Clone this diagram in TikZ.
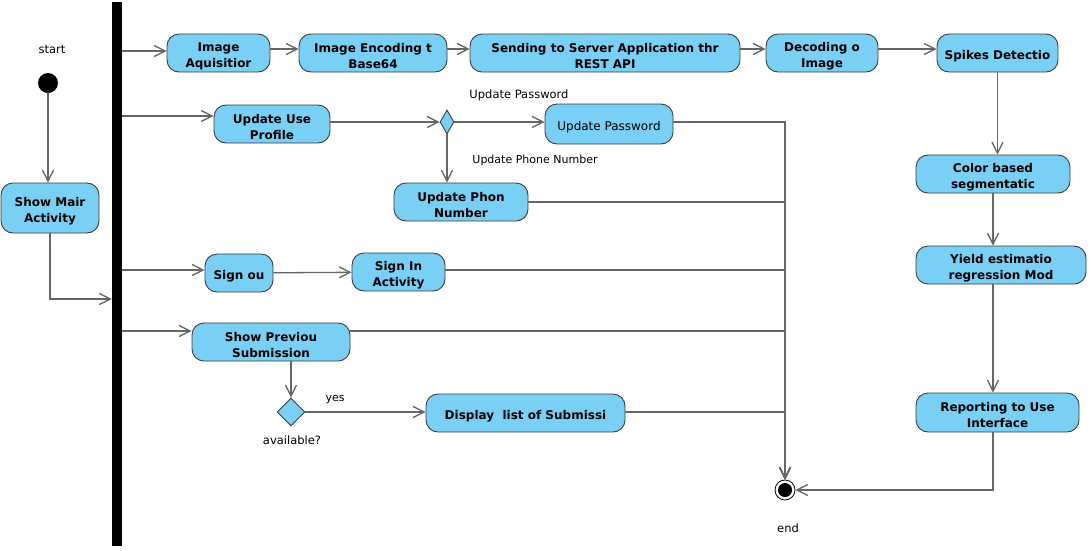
\documentclass[tikz,border=0pt]{standalone}
\usepackage{fontspec}
\setmainfont{DejaVu Sans}
\usetikzlibrary{arrows.meta,positioning,shapes.geometric}
\definecolor{actblue}{HTML}{7ACFF4}
\definecolor{boxline}{HTML}{3C3C3C}
\definecolor{flowline}{HTML}{666666}
\tikzset{
  actbox/.style={draw=boxline, line width=0.9pt, fill=actblue, rounded corners=12pt,
    align=center, inner sep=0pt, minimum height=38pt, text height=31pt,
    font=\fontsize{12}{16}\selectfont\bfseries},
  oneline/.style={text height=15pt},
  plainbox/.style={actbox, oneline, font=\fontsize{12}{16}\selectfont},
  decision/.style={diamond, draw=boxline, line width=0.9pt, fill=actblue, inner sep=0pt},
  lbl/.style={font=\fontsize{11.5}{14}\selectfont, inner sep=1pt},
  smalllbl/.style={font=\fontsize{11}{13}\selectfont, inner sep=1pt},
  arr/.style={-{Straight Barb[length=11pt, width=11pt]}, line width=1.3pt, draw=flowline},
  startdot/.style={circle, fill=black, minimum size=20pt, inner sep=0pt},
  endring/.style={circle, draw=black, fill=white, line width=0.8pt, minimum size=20pt, inner sep=0pt},
  forkbar/.style={fill=black, minimum width=10pt, minimum height=544pt, inner sep=0pt}
}
\begin{document}
\begin{tikzpicture}[x=1pt, y=-1pt]
  \useasboundingbox (0,0) rectangle (1091,550);
  % start, fork and end
  \node[startdot] (start) at (48,83) {};
  \node[lbl] (startlbl) at (52,50) {start};
  \node[forkbar] (fork) at (117,274) {};
  \node[endring] (end) at (785,490) {};
  \fill (end.center) circle (7);
  \node[lbl] (endlbl) at (788,528) {end};
  \node[actbox, minimum width=98pt, minimum height=50pt] (showmain) at (50,208) {Show Mair\\Activity};
  \coordinate (forkin) at (fork.west |- 0,299);

  % image pipeline
  \node[actbox, minimum width=103pt] (imgacq) at (218.5,53) {Image\\Aquisitior};
  \node[actbox, minimum width=148pt] (imgenc) at (373,53) {Image Encoding t\\Base64};
  \node[actbox, minimum width=270pt] (sending) at (605,53) {Sending to Server Application thr\\REST API};
  \node[actbox, minimum width=112pt] (decoding) at (822,53) {Decoding o\\Image};
  \node[actbox, oneline, minimum width=121pt] (spikes) at (997.5,53) {Spikes Detectio};
  \node[actbox, minimum width=154pt] (color) at (993,174) {Color based\\segmentatic};
  \node[actbox, minimum width=170pt] (yield) at (1001,265) {Yield estimatio\\regression Mod};
  \node[actbox, minimum width=163pt, minimum height=39pt] (report) at (997.5,412.5) {Reporting to Use\\Interface};

  % profile update
  \node[actbox, minimum width=116pt] (profile) at (272,124) {Update Use\\Profile};
  \node[decision, minimum width=14pt, minimum height=24pt] (updchoice) at (447,122) {};
  \node[plainbox, minimum width=128pt, minimum height=40pt] (password) at (609,124) {Update Password};
  \node[actbox, minimum width=134pt] (phone) at (461,202) {Update Phon\\Number};
  \node[lbl] (pwdlbl) at (519,95) {Update Password};
  \node[smalllbl] (phonelbl) at (535,160) {Update Phone Number};

  % sign out
  \node[actbox, oneline, minimum width=68pt] (signout) at (239,273) {Sign ou};
  \node[actbox, minimum width=93pt] (signin) at (398.5,272) {Sign In\\Activity};

  % previous submissions
  \node[actbox, minimum width=158pt] (showprev) at (271,342) {Show Previou\\Submission};
  \node[decision, minimum width=28pt, minimum height=28pt] (availchoice) at (291,412) {};
  \node[lbl] (availlbl) at (292,440) {available?};
  \node[actbox, oneline, minimum width=199pt] (display) at (525.5,413) {Display~ list of Submissi};
  \node[smalllbl] (yeslbl) at (335,400) {yes};

  % connectors
  \draw[arr] (start) -- (start |- showmain.north);
  \draw[arr] (showmain.south) |- (forkin);
  \draw[arr] (fork.east |- 0,51) -- (imgacq.west |- 0,51);
  \draw[arr] (fork.east |- 0,116) -- (profile.west |- 0,116);
  \draw[arr] (fork.east |- 0,270) -- (signout.west |- 0,270);
  \draw[arr] (fork.east |- 0,331) -- (showprev.west |- 0,331);
  \draw[arr] ([yshift=4pt]imgacq.east) -- ([yshift=4pt]imgenc.west);
  \draw[arr] ([yshift=4pt]imgenc.east) -- ([yshift=4pt]sending.west);
  \draw[arr] ([yshift=4pt]sending.east) -- ([yshift=4pt]decoding.west);
  \draw[arr] ([yshift=4pt]decoding.east) -- ([yshift=4pt]spikes.west);
  \draw[arr] (spikes.south) -- (spikes.south |- color.north);
  \draw[arr] (color.south) -- (color.south |- yield.north);
  \draw[arr] (yield.south -| color.south) -- (report.north -| color.south);
  \draw[arr] (report.south -| color.south) |- (end.east);
  \draw[arr] (profile.east |- updchoice) -- (updchoice.west);
  \draw[arr] (updchoice.east) -- (password.west |- updchoice);
  \draw[arr] (updchoice.south) -- (phone.north -| updchoice);
  \draw[arr] (signout) -- (signin);
  \draw[arr] (showprev.south -| availchoice) -- (availchoice.north);
  \draw[arr] (availchoice.east) -- (display.west |- availchoice);
  \draw[arr] (password.east |- updchoice) -| (end.north);
  \draw[arr] (phone.east) -| (end.north);
  \draw[arr] (signin.east |- 0,270) -| (end.north);
  \draw[arr] (showprev.east |- 0,331) -| (end.north);
  \draw[arr] (display.east |- availchoice) -| (end.north);
\end{tikzpicture}
\end{document}
